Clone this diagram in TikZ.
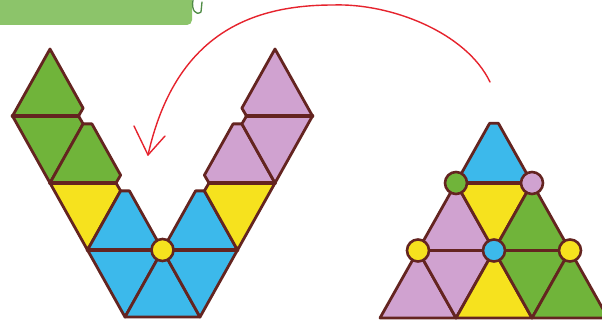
\documentclass[tikz,border=0pt]{standalone}
\usetikzlibrary{calc}
\definecolor{tgreen}{RGB}{112,180,58}
\definecolor{tpink}{RGB}{208,162,208}
\definecolor{tyellow}{RGB}{246,226,30}
\definecolor{tblue}{RGB}{60,185,235}
\definecolor{tbrown}{RGB}{100,36,32}
\definecolor{tred}{RGB}{230,35,45}
\definecolor{bannergreen}{RGB}{140,196,106}
\definecolor{bannerdark}{RGB}{80,140,70}
\tikzset{
  tileline/.style={draw=tbrown, line width=2.8pt, line join=round},
  seam/.style={draw=tbrown, line width=3.6pt, line cap=round},
  pinnode/.style={circle, draw=tbrown, line width=2.6pt, minimum size=22pt, inner sep=0pt},
  redarrow/.style={draw=tred, line width=1.4pt, line cap=round, line join=round}
}
\newcommand\tile[7]{\filldraw[tileline, fill=#1] ($(#2)!#5!(#4)$) -- ($(#2)!#5!(#3)$) -- ($(#3)!#6!(#2)$) -- ($(#3)!#6!(#4)$) -- ($(#4)!#7!(#3)$) -- ($(#4)!#7!(#2)$) -- cycle;}
\def\k{9pt}
\def\z{0pt}
\begin{document}
\begin{tikzpicture}[x=1pt,y=-1pt]
\useasboundingbox (0,0) rectangle (602,331);
\fill[white] (0,0) rectangle (602,331);
% banner
\fill[bannergreen, rounded corners=5pt] (-10,-10) rectangle (192,25);
\draw[bannerdark, line width=1.3pt, line cap=round] (193,0) .. controls (191,10) and (196,16) .. (201,12) -- (202,2);
% left V lattice
\coordinate (a1) at (125,317); \coordinate (a2) at (200,317);
\coordinate (b0) at (87.5,250); \coordinate (C) at (162.5,250); \coordinate (b2) at (237.5,250);
\coordinate (c0) at (50,183); \coordinate (c1) at (125,183); \coordinate (c2) at (200,183); \coordinate (c3) at (275,183);
\coordinate (d0) at (12.5,116); \coordinate (d1) at (87.5,116); \coordinate (d2) at (237.5,116); \coordinate (d3) at (312.5,116);
\coordinate (e0) at (50,49); \coordinate (e1) at (275,49);
% left arm (green)
\tile{tgreen}{d0}{d1}{e0}{\z}{\k}{\z}
\tile{tgreen}{d0}{d1}{c0}{\z}{\k}{\z}
\tile{tgreen}{c0}{c1}{d1}{\z}{\k}{\k}
\tile{tyellow}{c0}{c1}{b0}{\z}{\k}{\z}
% hexagon (blue)
\tile{tblue}{b0}{C}{c1}{\z}{\z}{\k}
\tile{tblue}{b0}{C}{a1}{\z}{\z}{\z}
\tile{tblue}{a1}{a2}{C}{\z}{\z}{\z}
\tile{tblue}{C}{b2}{a2}{\z}{\z}{\z}
\tile{tblue}{C}{b2}{c2}{\z}{\z}{\k}
% right arm (pink)
\tile{tyellow}{c2}{c3}{b2}{\k}{\z}{\z}
\tile{tpink}{c2}{c3}{d2}{\k}{\z}{\k}
\tile{tpink}{d2}{d3}{c3}{\k}{\z}{\z}
\tile{tpink}{d2}{d3}{e1}{\k}{\z}{\z}
% seams
\draw[seam] (d0) -- ($(d1)!\k!(d0)$);
\draw[seam] (c0) -- ($(c1)!\k!(c0)$);
\draw[seam] (b0) -- (b2);
\draw[seam] (c3) -- ($(c2)!\k!(c3)$);
\draw[seam] (d3) -- ($(d2)!\k!(d3)$);
\node[pinnode, fill=tyellow] (hub) at (C) {};
% right triangle
\coordinate (r0) at (380,318); \coordinate (r1) at (456,318); \coordinate (r2) at (532,318); \coordinate (r3) at (608,318);
\coordinate (q0) at (418,250.5); \coordinate (q1) at (494,250.5); \coordinate (q2) at (570,250.5);
\coordinate (p0) at (456,183); \coordinate (p1) at (532,183);
\coordinate (t) at (494,115.5);
\tile{tblue}{p0}{p1}{t}{\z}{\z}{\k}
\tile{tpink}{q0}{q1}{p0}{\z}{\z}{\z}
\tile{tyellow}{p0}{p1}{q1}{\z}{\z}{\z}
\tile{tgreen}{q1}{q2}{p1}{\z}{\z}{\z}
\tile{tpink}{r0}{r1}{q0}{\z}{\z}{\z}
\tile{tpink}{q0}{q1}{r1}{\z}{\z}{\z}
\tile{tyellow}{r1}{r2}{q1}{\z}{\z}{\z}
\tile{tgreen}{q1}{q2}{r2}{\z}{\z}{\z}
\tile{tgreen}{r2}{r3}{q2}{\z}{\z}{\z}
\draw[seam] (q0) -- (q2);
\draw[seam] (p0) -- (p1);
\node[pinnode, fill=tgreen] (pa) at (p0) {};
\node[pinnode, fill=tpink] (pb) at (p1) {};
\node[pinnode, fill=tyellow] (pc) at (q0) {};
\node[pinnode, fill=tblue] (pd) at (q1) {};
\node[pinnode, fill=tyellow] (pe) at (q2) {};
% red arrow
\coordinate (as) at (490,82);
\coordinate (top) at (333,5);
\coordinate (ae) at (148,155);
\draw[redarrow] (as) .. controls (466,32) and (390,3) .. (top) .. controls (250,5) and (175,35) .. (ae);
\draw[redarrow] (ae) -- ++(-14,-29);
\draw[redarrow] (ae) -- ++(17,-19);
\end{tikzpicture}
\end{document}
